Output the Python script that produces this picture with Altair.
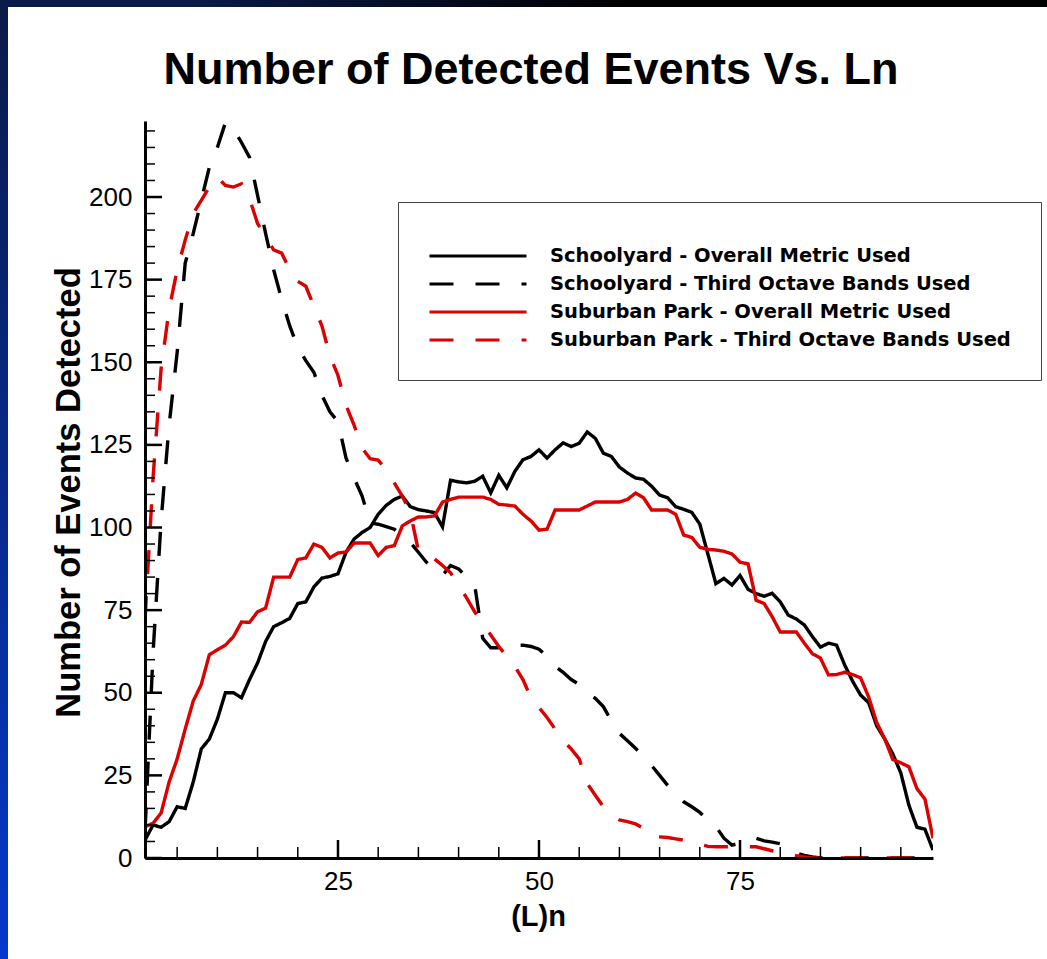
import altair as alt
import pandas as pd

# Percentile level n of the Ln metric
ln = list(range(1, 100))

schoolyard_overall = [
    5.4, 10, 9.3, 11, 15.5, 15, 23, 33, 36, 42,
    50, 50, 48.5, 54, 59, 65.5, 70, 71.2, 72.5, 77,
    77.5, 82, 84.7, 85.2, 86, 92.5, 96.5, 98.5, 100, 104,
    106.7, 108.5, 109.5, 106.3, 105.4, 105, 104.5, 100.2, 114.3, 113.8,
    113.5, 114, 115.5, 110.5, 115.8, 112, 117, 120.5, 121.5, 123.5,
    121, 123.5, 125.6, 124.5, 125.5, 128.9, 127, 122.5, 121.5, 118.3,
    116.5, 115, 114.6, 112.5, 109.8, 109, 106.3, 105.5, 104.6, 101,
    92, 83, 84.6, 82.6, 85.5, 81.3, 80, 79.2, 80.1, 77.5,
    73.5, 72.3, 70.5, 67, 63.8, 65, 64.4, 58.5, 53.5, 49.3,
    47, 40, 36, 31.5, 25.7, 16, 9.3, 8.7, 2.4,
]

schoolyard_third_octave = [
    8, 62, 102, 131, 153, 180, 189, 199, 209, 215,
    222.5, 220.5, 216.5, 212, 200.5, 189, 178, 169, 161, 154.5,
    150.5, 147, 140, 135, 132, 121, 115, 109.5, 101.4, 101,
    100.3, 99.5, 97.5, 95.5, 92.5, 89.5, 87, 85.5, 88.5, 87.5,
    85, 82.6, 66.5, 63.6, 63.6, 64, 64.3, 64.4, 64, 63.2,
    61, 58, 56.2, 54, 52.5, 50, 48.3, 45.8, 41.5, 37.7,
    35.5, 33.2, 30.8, 28, 25, 22, 19.3, 17, 15.5, 13.8,
    11.5, 9.5, 6, 3.9, 4.5, 5.5, 6, 5.2, 4.8, 4.3,
    3, 1.5, 0.8, 0.3, 0, 0, 0, 0, 0, 0,
    0, 0, 0, 0, 0, 0, 0, 0, 0,
]

suburban_overall = [
    9.5, 10.5, 13.6, 23, 30, 39, 47.5, 52.5, 61.5, 63,
    64.4, 67, 71.4, 71.3, 74.5, 75.6, 85, 85, 85, 90.3,
    90.8, 95, 94, 90.8, 92.3, 92.6, 95.3, 95.3, 95.3, 91.5,
    94, 94.5, 100.5, 102, 103.2, 103.2, 103.5, 107.7, 108.5, 109.2,
    109.2, 109.2, 109.2, 108.5, 107, 106.8, 106.5, 104, 102, 99.2,
    99.5, 105.3, 105.3, 105.3, 105.3, 106.5, 107.7, 107.7, 107.7, 107.7,
    108.5, 110.4, 109, 105.3, 105.3, 105.3, 104, 97.7, 97, 94,
    93.4, 93.2, 92.8, 92, 89.5, 89, 78, 77, 73, 68.4,
    68.4, 68.4, 65, 61.8, 60.5, 55.4, 55.5, 56.2, 55.5, 54.5,
    48.7, 41, 36, 29.8, 28.8, 27.6, 21, 17.8, 6,
]

suburban_third_octave = [
    72, 115, 148, 166, 178, 187, 195, 199, 203, 206,
    203.5, 203, 204, 199.5, 192, 188, 184, 183, 178, 174.5,
    173, 167, 161, 152, 146, 137, 131, 124, 120.8, 120.4,
    117.5, 113.5, 109.5, 104.5, 93, 92.4, 90.5, 88.5, 86.3, 82.5,
    78.7, 74.5, 70.8, 67.5, 64, 61, 58, 54, 48.5, 45.5,
    42.5, 39, 35.5, 33, 30, 22.5, 19, 15.5, 13, 11.5,
    11, 10.3, 9, 6.4, 6.4, 6.2, 5.8, 5.4, 5, 4.2,
    3.5, 3.4, 3.4, 3.4, 3.4, 3.4, 3.4, 2.8, 2.2, 1.6,
    1.2, 0.7, 0.3, 0, 0, 0, 0, 0, 0, 0,
    0, 0, 0, 0, 0, 0, 0, 0, 0,
]

series_names = [
    "Schoolyard - Overall Metric Used",
    "Schoolyard - Third Octave Bands Used",
    "Suburban Park - Overall Metric Used",
    "Suburban Park - Third Octave Bands Used",
]
series_values = [schoolyard_overall, schoolyard_third_octave,
                 suburban_overall, suburban_third_octave]
series_colors = ["#000000", "#000000", "#dd0000", "#dd0000"]
series_dashes = [[1, 0], [24, 22], [1, 0], [24, 22]]

# Axis tick positions (major ticks are labelled, minor ones are not)
x_major_ticks = [25, 50, 75]
x_minor_ticks = [5, 10, 15, 20, 30, 35, 40, 45, 55, 60, 65, 70, 80, 85, 90, 95]
y_major_ticks = [0, 25, 50, 75, 100, 125, 150, 175, 200]
y_minor_ticks = [5, 10, 15, 20, 30, 35, 40, 45, 55, 60, 65, 70, 80, 85, 90, 95,
                 105, 110, 115, 120, 130, 135, 140, 145, 155, 160, 165, 170,
                 180, 185, 190, 195, 205, 210, 215, 220]

W, H = 788, 737
FONT = "Liberation Sans"

data = pd.concat(
    [pd.DataFrame({"ln": ln, "events": vals, "series": name})
     for name, vals in zip(series_names, series_values)],
    ignore_index=True,
)

x_scale = alt.Scale(domain=[1, 99], nice=False, zero=False)
y_scale = alt.Scale(domain=[0, 223], nice=False, zero=False)

legend = alt.Legend(
    title=" ", titleFontSize=10, titlePadding=4,
    orient="none", legendX=253, legendY=81,
    symbolType="stroke", symbolSize=9409, symbolStrokeWidth=3,
    clipHeight=20, rowPadding=8,
    labelFont="DejaVu Sans", labelFontSize=19.5, labelFontWeight="bold",
    labelColor="black", labelOffset=22, labelLimit=700,
    padding=30, fillColor="white", strokeColor="#444444",
)

lines = alt.Chart(data).mark_line(strokeWidth=3.4, clip=True).encode(
    x=alt.X("ln:Q", scale=x_scale, axis=alt.Axis(
        values=x_major_ticks, title="(L)n", tickSize=0, grid=False,
        domainWidth=3, domainColor="black", labelFont=FONT, labelFontSize=26,
        labelColor="black", labelPadding=10, labelFlush=False,
        titleFont=FONT, titleFontSize=29, titleFontWeight="bold", titleColor="black",
        titleX=393, titleY=58, titleBaseline="middle", titleAlign="center", zindex=1)),
    y=alt.Y("events:Q", scale=y_scale, axis=alt.Axis(
        values=y_major_ticks, title="Number of Events Detected", tickSize=0, grid=False,
        domainWidth=3, domainColor="black", labelFont=FONT, labelFontSize=26,
        labelColor="black", labelPadding=13, labelFlush=False,
        titleFont=FONT, titleFontSize=34.5, titleFontWeight="bold", titleColor="black",
        titleAngle=270, titleX=-76, titleY=371, titleBaseline="middle",
        titleAlign="center", zindex=1)),
    color=alt.Color("series:N", scale=alt.Scale(domain=series_names, range=series_colors),
                    legend=legend),
    strokeDash=alt.StrokeDash("series:N", scale=alt.Scale(domain=series_names, range=series_dashes),
                              legend=legend),
    detail="series:N",
)

# Inward-pointing tick marks
def x_ticks(values, length, width):
    return alt.Chart(pd.DataFrame({"v": values})).mark_rule(
        color="black", strokeWidth=width).encode(
        x=alt.X("v:Q", scale=x_scale), y=alt.value(H), y2=alt.value(H - length))

def y_ticks(values, length, width):
    return alt.Chart(pd.DataFrame({"v": values})).mark_rule(
        color="black", strokeWidth=width).encode(
        y=alt.Y("v:Q", scale=y_scale), x=alt.value(0), x2=alt.value(length))

# Slide frame: blue strip on the left, dark strip along the top
left_strip = alt.Chart(pd.DataFrame({"a": [0]})).mark_rect(
    color=alt.LinearGradient(
        gradient="linear", x1=0, x2=0, y1=0, y2=1,
        stops=[alt.GradientStop(color="#0a1a48", offset=0),
               alt.GradientStop(color="#0638cc", offset=1)])).encode(
    x=alt.value(-145), x2=alt.value(-137), y=alt.value(-121), y2=alt.value(H + 101))
top_strip = alt.Chart(pd.DataFrame({"a": [0]})).mark_rect(
    color=alt.LinearGradient(
        gradient="linear", x1=0, x2=1, y1=0, y2=0,
        stops=[alt.GradientStop(color="#0a1a48", offset=0),
               alt.GradientStop(color="#0a1a48", offset=0.18),
               alt.GradientStop(color="#000000", offset=0.6)])).encode(
    x=alt.value(-145), x2=alt.value(W + 114), y=alt.value(-121), y2=alt.value(-114))

chart = alt.layer(
    left_strip, top_strip, lines,
    x_ticks(x_minor_ticks, 11, 1.5), x_ticks(x_major_ticks, 18, 2.5),
    y_ticks(y_minor_ticks, 10, 1.5), y_ticks(y_major_ticks, 17, 2.5),
).properties(
    width=W, height=H,
    title=alt.TitleParams(
        "Number of Detected Events Vs. Ln", font=FONT, fontSize=45,
        fontWeight="bold", color="black", anchor="middle", frame="group",
        baseline="alphabetic", dx=-8, offset=-129),
    autosize=alt.AutoSizeParams(type="none"),
    padding={"left": 145, "top": 121, "right": 114, "bottom": 101},
    background="white",
).configure_view(strokeWidth=0)

chart.save("out.html", embed_options={"renderer": "svg", "actions": False})
